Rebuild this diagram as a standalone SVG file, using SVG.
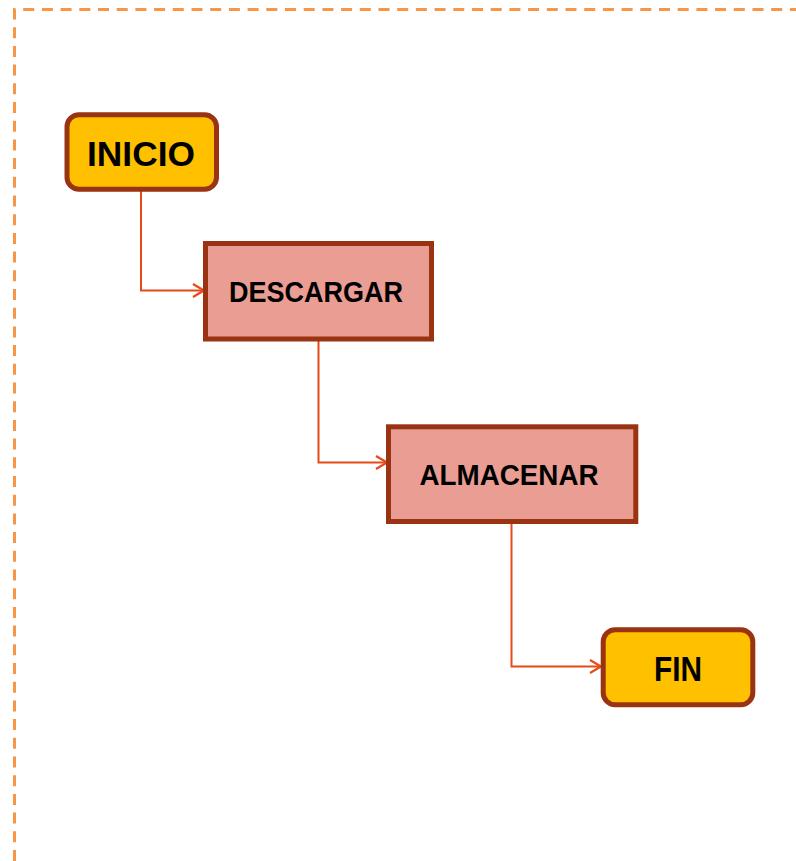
<svg xmlns="http://www.w3.org/2000/svg" width="796" height="861" viewBox="0 0 796 861">
<style>
.term{fill:#FFC000;stroke:#9A3311;stroke-width:5}
.proc{fill:#E99D93;stroke:#9A3311;stroke-width:5}
.lbl{font-family:"Liberation Sans",Arial,sans-serif;font-weight:bold;fill:#000;text-anchor:middle}
.conn{fill:none;stroke:#E64A19;stroke-width:2}
</style>
<defs>
<marker id="arr" markerUnits="userSpaceOnUse" markerWidth="16" markerHeight="16" viewBox="-12 -8 16 16" refX="0" refY="0" orient="auto">
<path d="M-11,-6.5 L0,0 L-11,6.5" fill="none" stroke="#E64A19" stroke-width="2.2"/>
</marker>
</defs>
<rect width="796" height="861" fill="#fff"/>
<path d="M14.5,861 L14.5,9.5 L796,9.5" fill="none" stroke="#F79646" stroke-width="3" stroke-dasharray="11 7.7"/>
<g id="connectors">
<path class="conn" d="M141,191 V290.5 H204" marker-end="url(#arr)"/>
<path class="conn" d="M318.5,341 V462.5 H387" marker-end="url(#arr)"/>
<path class="conn" d="M511.5,524 V666.5 H601" marker-end="url(#arr)"/>
</g>
<g id="inicio">
<rect class="term" x="67" y="114.8" width="149.5" height="74.5" rx="12"/>
<text class="lbl" x="141" y="165.5" font-size="35" textLength="108" lengthAdjust="spacingAndGlyphs">INICIO</text>
</g>
<g id="descargar">
<rect class="proc" x="205.5" y="243.5" width="226" height="95.5"/>
<text class="lbl" x="316" y="301.5" font-size="29" textLength="174" lengthAdjust="spacingAndGlyphs">DESCARGAR</text>
</g>
<g id="almacenar">
<rect class="proc" x="388.5" y="426.8" width="247.3" height="94.7"/>
<text class="lbl" x="509" y="485" font-size="29" textLength="179" lengthAdjust="spacingAndGlyphs">ALMACENAR</text>
</g>
<g id="fin">
<rect class="term" x="603.2" y="629.8" width="149.6" height="75" rx="12"/>
<text class="lbl" x="678" y="681" font-size="35" textLength="48" lengthAdjust="spacingAndGlyphs">FIN</text>
</g>
</svg>
